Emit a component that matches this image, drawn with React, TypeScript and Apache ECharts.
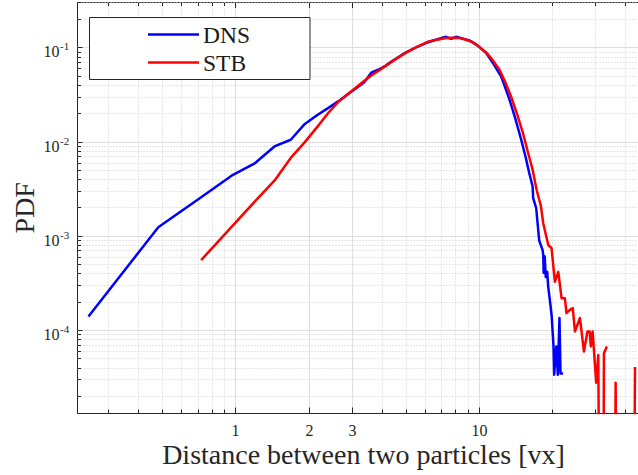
import React, { useEffect, useRef } from "react";
import * as echarts from "echarts";

// ---------- data ----------
const dnsX = [
  0.248, 0.48, 0.72, 0.96, 1.2, 1.44, 1.68, 1.92, 2.16, 2.4, 2.64, 2.88, 3.12, 3.36, 3.6, 3.84, 4.08, 4.26,
  4.98, 5.5, 6.03, 6.63, 7.29, 7.65, 8.03, 8.5, 9.1, 9.8, 10.67, 11.5, 12.3, 13.24, 14.0, 14.86, 15.5,
  16.03, 16.55, 16.64, 17.12, 17.62, 18.18, 18.3, 18.38, 18.56, 18.74, 19.0, 19.19, 19.63, 19.83, 20.17,
  20.29, 20.71, 21.0, 21.34, 21.55, 22.07,
];
const dnsY = [
  1.41e-4, 1.25e-3, 2.6e-3, 4.4e-3, 6.0e-3, 9.0e-3, 1.06e-2, 1.56e-2, 1.94e-2, 2.31e-2, 2.72e-2, 3.22e-2,
  3.73e-2, 4.3e-2, 5.45e-2, 5.86e-2, 6.35e-2, 6.9e-2, 8.9e-2, 0.101, 0.1125, 0.122, 0.131, 0.125, 0.131,
  0.126, 0.12, 0.107, 0.088, 0.066, 0.0497, 0.0293, 0.0184, 0.0106, 6.9e-3, 4.7e-3, 3.4e-3, 2.55e-3,
  2.0e-3, 9.0e-4, 7.2e-4, 6.4e-4, 4.1e-4, 6.1e-4, 3.7e-4, 4.2e-4, 2.9e-4, 1.8e-4, 1.41e-4, 6.8e-5,
  3.4e-5, 6.8e-5, 3.4e-5, 1.36e-4, 3.5e-5, 3.5e-5,
];
const stbX = [
  0.72, 0.96, 1.2, 1.44, 1.68, 1.92, 2.16, 2.4, 2.64, 3.0, 3.3, 3.6, 4.0, 4.5, 5.0, 5.6, 6.2, 6.8, 7.3,
  7.8, 8.3, 8.8, 9.4, 10.0, 10.7, 11.4, 12.1, 12.8, 13.5, 14.3, 15.1, 15.8, 16.55, 17.2, 17.9, 18.3,
  19.19, 19.8, 20.43, 21.1, 21.77, 22.46, 22.8, 23.55, 24.2, 24.7, 25.9, 26.9, 27.8, 28.4, 28.7, 29.2,
  30.2, 30.8, 31.5, 32.1, 32.5, 33.4, 34.0, 35.6, 36.3, 37.0, 42.7, 43.6,
];
// 1e-8 marks empty bins (zero PDF, drawn below the log axis); null marks a break in the line
const stbY: (number | null)[] = [
  5.6e-4, 1.26e-3, 2.36e-3, 3.9e-3, 6.8e-3, 1.0e-2, 1.45e-2, 2.05e-2, 2.68e-2, 3.5e-2, 4.3e-2, 5.1e-2,
  6.1e-2, 7.5e-2, 8.9e-2, 0.104, 0.117, 0.123, 0.127, 0.128, 0.127, 0.122, 0.115, 0.102, 0.089, 0.073,
  0.0586, 0.043, 0.0305, 0.0197, 0.0125, 8.0e-3, 5.1e-3, 3.1e-3, 2.1e-3, 1.38e-3, 8.1e-4, 7.5e-4,
  3.3e-4, 4.2e-4, 2.2e-4, 2.2e-4, 1.53e-4, 1.66e-4, 1.73e-4, 9.8e-5, 1.36e-4, 6.0e-5, 9.8e-5, 9.8e-5,
  6.8e-5, 9.8e-5, 2.8e-5, 5.5e-5, 1e-8, 1e-8, 5.75e-5, 6.8e-5, null, 1e-8, 2.8e-5, 1e-8, 1e-8, 4.1e-5,
];

const seriesNames = ["DNS", "STB"];
const xMajorTicks = [1, 2, 3, 10];
const xTickLabels = ["1", "2", "3", "10"];
const xMinorTicks = [0.3, 0.4, 0.5, 0.6, 0.7, 0.8, 0.9, 4, 5, 6, 7, 8, 9, 20, 30, 40];
const yMajorTicks = [1e-4, 1e-3, 1e-2, 1e-1];
const yTickExponents = ["-4", "-3", "-2", "-1"];
const yMinorTicks = [
  2e-5, 3e-5, 4e-5, 5e-5, 6e-5, 7e-5, 8e-5, 9e-5,
  2e-4, 3e-4, 4e-4, 5e-4, 6e-4, 7e-4, 8e-4, 9e-4,
  2e-3, 3e-3, 4e-3, 5e-3, 6e-3, 7e-3, 8e-3, 9e-3,
  2e-2, 3e-2, 4e-2, 5e-2, 6e-2, 7e-2, 8e-2, 9e-2,
  0.2, 0.3,
];
const X_MIN = 0.2236;
const X_MAX = 50;
const Y_MIN = 1.336e-5;
const Y_MAX = 0.303;

// ---------- styles ----------
const FONT = '"Liberation Serif", "Times New Roman", serif';
const AXIS_COLOR = "#262626";
const GRID_MAJOR = "#dedede";
const GRID_MINOR = "#cfcfcf";
const BLUE = "#0000ff";
const RED = "#ff0000";

function crisp(v: number) {
  return Math.round(v - 0.5) + 0.5;
}

export default function App() {
  const ref = useRef<HTMLDivElement>(null);

  useEffect(() => {
    const chart = echarts.init(ref.current!, null, { renderer: "svg" });

    const xGridData = [
      ...xMajorTicks.map((v, i) => [v, Y_MIN, 1, i]),
      ...xMinorTicks.map((v) => [v, Y_MIN, 0, -1]),
    ];
    const yGridData = [
      ...yMajorTicks.map((v, i) => [X_MIN, v, 1, i]),
      ...yMinorTicks.map((v) => [X_MIN, v, 0, -1]),
    ];

    const option: any = {
      animation: false,
      backgroundColor: "#ffffff",
      grid: { left: 77.5, top: 2.5, width: 572, height: 410.5, containLabel: false, outerBoundsMode: "none" },
      xAxis: [
        {
          type: "log",
          logBase: 10,
          min: X_MIN,
          max: X_MAX,
          position: "bottom",
          name: "Distance between two particles [vx]",
          nameLocation: "middle",
          nameGap: 27,
          nameTextStyle: { fontFamily: FONT, fontSize: 28, color: AXIS_COLOR },
          axisLine: { show: true, onZero: false, lineStyle: { color: AXIS_COLOR, width: 1 } },
          axisTick: { show: false },
          axisLabel: { show: false },
          splitLine: { show: false },
          minorTick: { show: false },
        },
        {
          type: "log",
          logBase: 10,
          min: X_MIN,
          max: X_MAX,
          position: "top",
          axisLine: { show: true, onZero: false, lineStyle: { color: AXIS_COLOR, width: 1 } },
          axisTick: { show: false },
          axisLabel: { show: false },
          splitLine: { show: false },
        },
      ],
      yAxis: {
        type: "log",
        logBase: 10,
        min: Y_MIN,
        max: Y_MAX,
        name: "PDF",
        nameLocation: "middle",
        nameGap: 39,
        nameTextStyle: { fontFamily: FONT, fontSize: 28, color: AXIS_COLOR },
        axisLine: { show: true, onZero: false, lineStyle: { color: AXIS_COLOR, width: 1 } },
        axisTick: { show: false },
        axisLabel: { show: false },
        splitLine: { show: false },
      },
      series: [
        {
          type: "custom",
          name: "xgrid",
          xAxisIndex: 0,
          silent: true,
          z: 1,
          data: xGridData,
          renderItem: (params: any, api: any) => {
            const cs = params.coordSys;
            const x = crisp(api.coord([api.value(0), Y_MIN])[0]);
            const major = api.value(2) === 1;
            const top = cs.y;
            const bottom = cs.y + cs.height;
            const tickLen = major ? 5.5 : 3.5;
            const children: any[] = [
              {
                type: "line",
                shape: { x1: x, y1: top, x2: x, y2: bottom },
                style: { stroke: major ? GRID_MAJOR : GRID_MINOR, lineWidth: 1, lineDash: major ? null : [1, 2] },
              },
              {
                type: "line",
                shape: { x1: x, y1: bottom, x2: x, y2: bottom - tickLen },
                style: { stroke: AXIS_COLOR, lineWidth: 1 },
              },
              {
                type: "line",
                shape: { x1: x, y1: top, x2: x, y2: top + tickLen },
                style: { stroke: AXIS_COLOR, lineWidth: 1 },
              },
            ];
            if (major) {
              children.push({
                type: "text",
                x,
                y: bottom + 17,
                style: {
                  text: xTickLabels[api.value(3)],
                  fontFamily: FONT,
                  fontSize: 16,
                  fill: AXIS_COLOR,
                  align: "center",
                  verticalAlign: "middle",
                },
              });
            }
            return { type: "group", children };
          },
        },
        {
          type: "custom",
          name: "ygrid",
          xAxisIndex: 0,
          silent: true,
          z: 1,
          data: yGridData,
          renderItem: (params: any, api: any) => {
            const cs = params.coordSys;
            const y = crisp(api.coord([X_MIN, api.value(1)])[1]);
            const major = api.value(2) === 1;
            const left = cs.x;
            const right = cs.x + cs.width;
            const tickLen = major ? 5 : 3.5;
            const children: any[] = [
              {
                type: "line",
                shape: { x1: left, y1: y, x2: right, y2: y },
                style: { stroke: major ? GRID_MAJOR : GRID_MINOR, lineWidth: 1, lineDash: major ? null : [1, 2] },
              },
              {
                type: "line",
                shape: { x1: left, y1: y, x2: left + tickLen, y2: y },
                style: { stroke: AXIS_COLOR, lineWidth: 1 },
              },
            ];
            if (major) {
              children.push({
                type: "text",
                x: left - 18,
                y: y + 4,
                style: {
                  text: "10",
                  fontFamily: FONT,
                  fontSize: 16,
                  fill: AXIS_COLOR,
                  align: "right",
                  verticalAlign: "middle",
                },
              });
              children.push({
                type: "text",
                x: left - 17.5,
                y: y - 2,
                style: {
                  text: yTickExponents[api.value(3)],
                  fontFamily: FONT,
                  fontSize: 11,
                  fill: AXIS_COLOR,
                  align: "left",
                  verticalAlign: "middle",
                },
              });
            }
            return { type: "group", children };
          },
        },
        {
          type: "line",
          name: seriesNames[0],
          xAxisIndex: 0,
          z: 3,
          showSymbol: false,
          symbol: "none",
          connectNulls: false,
          lineStyle: { color: BLUE, width: 2.5, join: "round" },
          data: dnsX.map((x, i) => [x, dnsY[i]]),
        },
        {
          type: "line",
          name: seriesNames[1],
          xAxisIndex: 0,
          z: 4,
          showSymbol: false,
          symbol: "none",
          connectNulls: false,
          lineStyle: { color: RED, width: 2.5, join: "round" },
          data: stbX.map((x, i) => [x, stbY[i] === null ? "-" : stbY[i]]),
        },
      ],
      graphic: [
        {
          type: "rect",
          z: 100,
          shape: { x: 89.5, y: 17.5, width: 220.5, height: 62 },
          style: { fill: "#ffffff", stroke: AXIS_COLOR, lineWidth: 1 },
        },
        {
          type: "line",
          z: 101,
          shape: { x1: 148, y1: 34.5, x2: 199, y2: 34.5 },
          style: { stroke: BLUE, lineWidth: 2.5 },
        },
        {
          type: "text",
          z: 101,
          x: 203,
          y: 35,
          style: { text: seriesNames[0], fontFamily: FONT, fontSize: 23.5, fill: "#1a1a1a", verticalAlign: "middle", align: "left" },
        },
        {
          type: "line",
          z: 101,
          shape: { x1: 148, y1: 62.5, x2: 199, y2: 62.5 },
          style: { stroke: RED, lineWidth: 2.5 },
        },
        {
          type: "text",
          z: 101,
          x: 203,
          y: 63,
          style: { text: seriesNames[1], fontFamily: FONT, fontSize: 23.5, fill: "#1a1a1a", verticalAlign: "middle", align: "left" },
        },
      ],
    };

    chart.setOption(option);
    return () => chart.dispose();
  }, []);

  return (
    <div style={{ position: "absolute", left: 0, top: 0, width: 638, height: 475, overflow: "hidden", background: "#ffffff" }}>
      <div ref={ref} style={{ position: "absolute", left: 0, top: 0, width: 660, height: 475 }} />
    </div>
  );
}
